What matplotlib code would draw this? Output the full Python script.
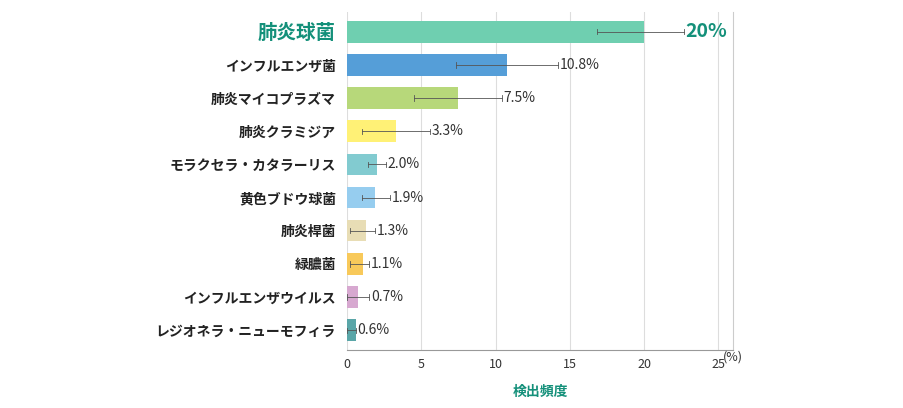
import matplotlib.pyplot as plt
import numpy as np

plt.rcParams['font.family'] = 'Noto Sans CJK JP'

categories = ['肺炎球菌', 'インフルエンザ菌', '肺炎マイコプラズマ', '肺炎クラミジア',
              'モラクセラ・カタラーリス', '黄色ブドウ球菌', '肺炎桿菌', '緑膿菌',
              'インフルエンザウイルス', 'レジオネラ・ニューモフィラ']
values = [20, 10.8, 7.5, 3.3, 2.0, 1.9, 1.3, 1.1, 0.7, 0.6]
value_labels = ['20%', '10.8%', '7.5%', '3.3%', '2.0%', '1.9%', '1.3%', '1.1%', '0.7%', '0.6%']
err_low = [16.8, 7.3, 4.5, 1.0, 1.4, 1.0, 0.2, 0.2, 0.0, 0.0]
err_high = [22.7, 14.2, 10.4, 5.6, 2.6, 2.9, 1.9, 1.5, 1.5, 0.6]
colors = ['#6fcfb0', '#559ed8', '#b7d87a', '#fff176', '#82cbd0', '#96cdef',
          '#e8ddb5', '#f8c95a', '#d7a8d0', '#5aa6a8']
teal = '#14907a'

fig = plt.figure(figsize=(9.04, 4.08), dpi=100)
ax = fig.add_axes([0.384, 0.142, 0.427, 0.829])
y = np.arange(len(categories))
ax.barh(y, values, height=0.65, color=colors, zorder=2)
for i in range(len(values)):
    ax.plot([err_low[i], err_high[i]], [y[i], y[i]], color='#555555', lw=0.6, zorder=3)
    for xe in (err_low[i], err_high[i]):
        ax.plot([xe, xe], [y[i] - 0.08, y[i] + 0.08], color='#555555', lw=0.6, zorder=3)
    if i == 0:
        ax.text(err_high[i] + 0.1, y[i], value_labels[i], va='center', ha='left',
                color=teal, fontsize=14, fontweight='bold')
    else:
        ax.text(err_high[i] + 0.1, y[i], value_labels[i], va='center', ha='left',
                color='#333333', fontsize=10)

ax.set_ylim(len(categories) - 0.4, -0.6)
ax.set_xlim(0, 26)
ax.set_yticks(y)
ax.set_yticklabels(categories, fontsize=10, fontweight='bold', color='#222222')
lbl0 = ax.get_yticklabels()[0]
lbl0.set_color(teal)
lbl0.set_fontsize(14)
ax.set_xticks([0, 5, 10, 15, 20, 25])
ax.set_xticklabels(['0', '5', '10', '15', '20', '25'], fontsize=9, color='#333333')
ax.text(25.3, len(categories) - 0.4, '(%)', fontsize=9, color='#333333', va='top',
        ha='left', transform=ax.transData)
ax.tick_params(axis='y', length=0, pad=8)
ax.tick_params(axis='x', length=0, pad=6)
ax.grid(axis='x', color='#dddddd', lw=0.8, zorder=0)
for s in ['top', 'left']:
    ax.spines[s].set_visible(False)
ax.spines['right'].set_color('#cccccc')
ax.spines['bottom'].set_color('#999999')
ax.set_xlabel('検出頻度', color=teal, fontsize=10, fontweight='bold', labelpad=10)
fig.savefig('out.png', dpi=100)
